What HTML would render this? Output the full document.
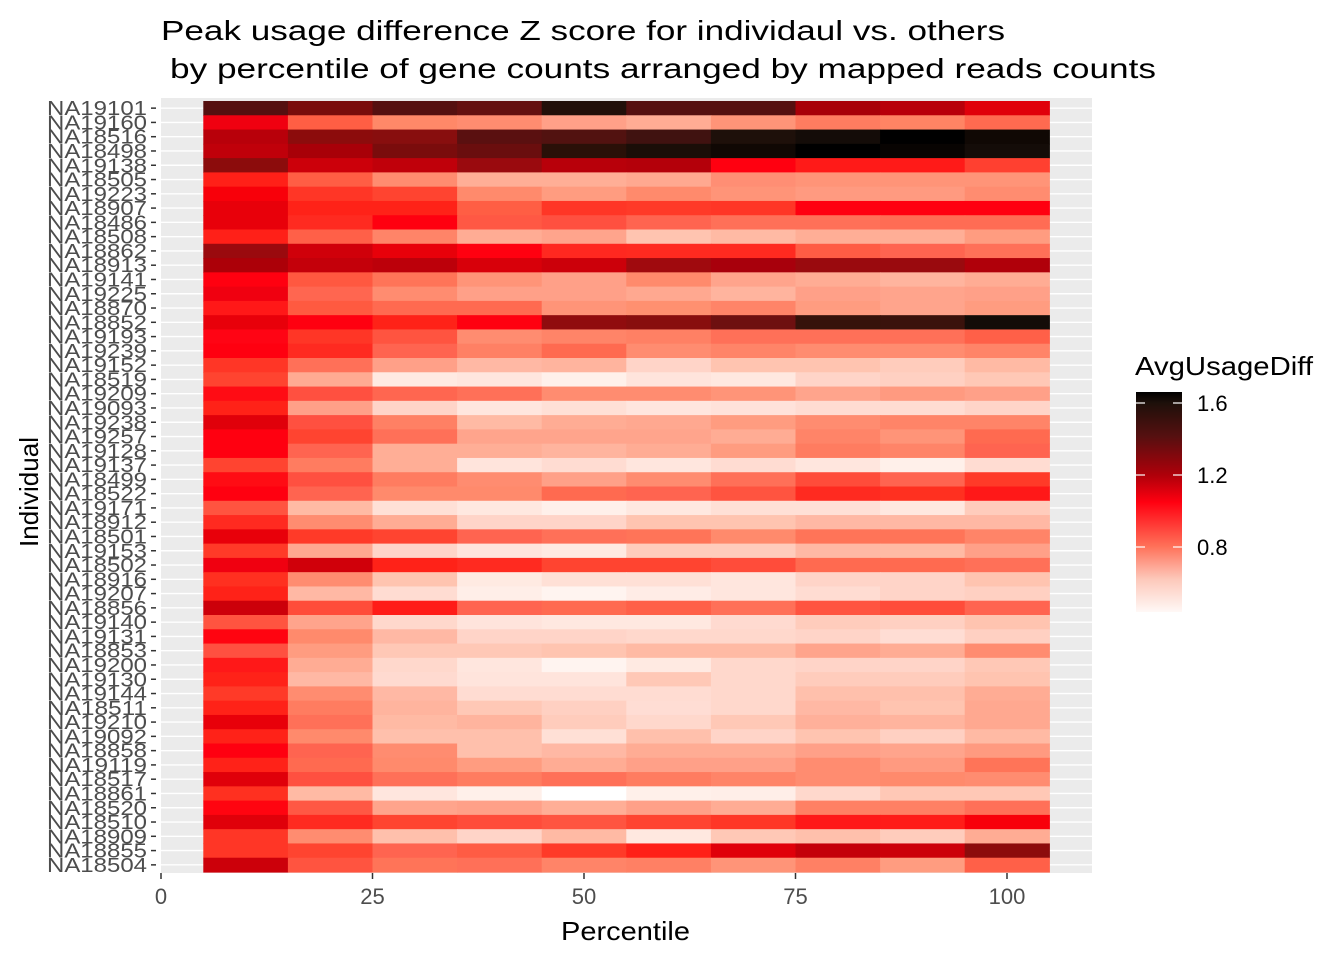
<!DOCTYPE html>
<html><head><meta charset="utf-8"><style>
html,body{margin:0;padding:0;background:#fff}
svg{display:block}
text{font-family:"Liberation Sans",Arial,sans-serif}
</style></head><body>
<svg id="s" width="1344" height="960" xmlns="http://www.w3.org/2000/svg">
<defs><linearGradient id="g" x1="0" y1="1" x2="0" y2="0">
<stop offset="0" stop-color="#fff8f6"/><stop offset="0.15" stop-color="#fdc8ba"/><stop offset="0.3" stop-color="#ff7058"/><stop offset="0.5" stop-color="#ff0010"/><stop offset="0.62" stop-color="#b0000a"/><stop offset="0.8" stop-color="#551010"/><stop offset="0.95" stop-color="#1e100a"/><stop offset="1" stop-color="#000000"/>
</linearGradient></defs>
<rect x="161" y="98" width="931" height="775" fill="#ebebeb"/>
<g id="grid"></g>
<g id="tiles"></g>
<g id="labs" fill="#4d4d4d" font-size="20" text-anchor="end"></g>
<g stroke="#333" stroke-width="1.5">
<line x1="161" y1="873" x2="161" y2="879"/><line x1="372.5" y1="873" x2="372.5" y2="879"/><line x1="584" y1="873" x2="584" y2="879"/><line x1="795.5" y1="873" x2="795.5" y2="879"/><line x1="1007" y1="873" x2="1007" y2="879"/>
</g>
<g fill="#4d4d4d" font-size="22" text-anchor="middle">
<text x="161" y="904">0</text><text x="372.5" y="904">25</text><text x="584" y="904">50</text><text x="795.5" y="904">75</text><text x="1007" y="904">100</text>
</g>
<text x="561" y="940" font-size="26" textLength="129" lengthAdjust="spacingAndGlyphs" fill="#000">Percentile</text>
<text transform="translate(38,547) rotate(-90)" font-size="26" textLength="110" lengthAdjust="spacingAndGlyphs" fill="#000">Individual</text>
<text x="161" y="40" font-size="28" textLength="844" lengthAdjust="spacingAndGlyphs" fill="#000">Peak usage difference Z score for individaul vs. others</text>
<text x="170" y="78" font-size="28" textLength="986" lengthAdjust="spacingAndGlyphs" fill="#000">by percentile of gene counts arranged by mapped reads counts</text>
<text x="1135" y="375" font-size="26" textLength="178" lengthAdjust="spacingAndGlyphs" fill="#000">AvgUsageDiff</text>
<rect x="1136" y="392" width="46" height="220" fill="url(#g)"/>
<g stroke="#fff" stroke-width="1.2">
<line x1="1136" y1="403" x2="1145" y2="403"/><line x1="1173" y1="403" x2="1182" y2="403"/>
<line x1="1136" y1="475" x2="1145" y2="475"/><line x1="1173" y1="475" x2="1182" y2="475"/>
<line x1="1136" y1="547" x2="1145" y2="547"/><line x1="1173" y1="547" x2="1182" y2="547"/>
</g>
<g fill="#000" font-size="22"><text x="1197" y="411">1.6</text><text x="1197" y="483">1.2</text><text x="1197" y="555">0.8</text></g>
</svg>
<script>
var L=["NA19101","NA19160","NA18516","NA18498","NA19138","NA18505","NA19223","NA18907","NA18486","NA18508","NA18862","NA18913","NA19141","NA19225","NA18870","NA18852","NA19193","NA19239","NA19152","NA18519","NA19209","NA19093","NA19238","NA19257","NA19128","NA19137","NA18499","NA18522","NA19171","NA18912","NA18501","NA19153","NA18502","NA18916","NA19207","NA18856","NA19140","NA19131","NA18853","NA19200","NA19130","NA19144","NA18511","NA19210","NA19092","NA18858","NA19119","NA18517","NA18861","NA18520","NA18510","NA18909","NA18855","NA18504"];
var C=[
"551010 7a0c0c 551010 641010 22100a 551010 551010 a80008 b8000a e0000a",
"f00010 ff5e44 ff8868 ff8c70 ffa088 ffac94 ff9478 ff7c60 ff8464 ff6a50",
"b8000a 8c0c0c 880e0e 5a1010 521210 401210 1e100a 140c08 000000 100804",
"c0000a a80008 7a0c0c 6a0e0e 2a1008 1a0e08 100804 000000 080402 140c08",
"8c0c0c cc000a c0000a 9a0a0e b8000a b4000a ff0010 ff1a18 ff1a18 ff4030",
"ff2018 ff5e44 ff8c70 ffae96 ffae96 ffa890 ff8e74 ff9478 ff9478 ff9478",
"f8000a ff3626 ff4430 ff8a6c ff9c80 ff8a6c ff9478 ff9a80 ff9a80 ff8c70",
"e8000a ff2218 ff2218 ff5e44 ff3626 ff3a28 ff3626 ff0010 ff0010 ff0010",
"e8000a ff2a20 ff0010 ff5844 ff5040 ff6450 ff7058 ff7058 ff6c54 ff6c54",
"ff2018 ff6048 ff8468 ffac94 ffa48c ffc4b0 ffbaa4 ffae96 ffae96 ff9c80",
"9a0a0e d0000a e8000a ff0010 ff2820 ff2a20 ff2a20 ff5c44 ff6450 ff7058",
"ac0008 c4000a bc000a d8000a cc000a a00a0e a8000c 9a0a0e 9a0a0e b0000a",
"ff0010 ff5840 ff7458 ff9478 ffa088 ff8a6c ffa48c ffac94 ffb49e ffac94",
"f00010 ff6650 ff8c70 ffa088 ffa088 ffa890 ffb49e ffa088 ffa48c ffa088",
"ff1818 ff5a40 ff6a50 ff6a50 ff9478 ff9070 ff8468 ff9c80 ffa48c ff9c80",
"e8000a ff0010 ff2218 ff0010 900c0e 880e0e 6e1010 36120a 3a120c 140c08",
"ff0414 ff3626 ff5440 ff8c70 ff8468 ff8064 ff7058 ff7058 ff7058 ff6048",
"ff0010 ff2a20 ff6450 ff8064 ff6a50 ff8c70 ff8468 ff8c70 ff8c70 ff8468",
"ff3626 ff7058 ffa088 ffb8a4 ffb49e ffd4c8 ffc4b0 ffc4b0 ffccbc ffbaa4",
"ff4430 ffaa92 ffeae2 ffe6de fff0ea ffe4dc ffe8e0 ffd4c8 ffd0c2 ffc8b6",
"ff0c14 ff5040 ff6650 ff7058 ff8c70 ff8c70 ff9478 ffa48c ff9a80 ffa088",
"ff2218 ffa088 ffd4c8 ffe6de ffe0d6 ffe6de ffe2da ffdcd2 ffdcd2 ffd4c8",
"e0000a ff5040 ff8064 ffbaa4 ffac94 ffa890 ff9c80 ff8c70 ff8468 ff8468",
"ff0010 ff4430 ff7058 ffa48c ffa48c ffa48c ffac94 ff8468 ff9478 ff6a50",
"ff0010 ff6450 ffae96 ffae96 ffb49e ffac94 ff9c80 ff7c60 ff8468 ff6450",
"ff4430 ff7c60 ffae96 ffe4dc ffdcd2 ffe6de ffdcd2 ffe6de fff0ea ffdcd2",
"ff0c14 ff5040 ff7c60 ff8c70 ffa088 ff8c70 ff7058 ff4c3a ff6450 ff3a28",
"ff0010 ff6450 ff8a6c ff8a6c ff6a50 ff6450 ff5440 ff2a20 ff3020 ff1818",
"ff5440 ffbaa4 ffe0d6 ffe8e0 fff0ea ffe8e0 ffe0d6 ffe0d6 ffe8e0 ffccbc",
"ff2a20 ff8c70 ffac94 ffd4c8 ffd4c8 ffc4b0 ffc4b0 ffb8a4 ffb8a4 ffb8a4",
"e8000a ff3a28 ff4430 ff6450 ff7058 ff7458 ff8a6c ff7458 ff7458 ff8468",
"ff3a28 ffa890 ffd4c8 ffe4dc ffeae2 ffccbc ffccbc ffb8a4 ffbaa4 ffa088",
"f00010 d0000a ff2218 ff2a20 ff4430 ff4430 ff4c3a ff6a50 ff6a50 ff7058",
"ff3020 ff8c70 ffc4b0 ffeae2 ffe0d6 ffe0d6 ffe6de ffd4c8 ffd4c8 ffc4b0",
"ff2218 ffb8a4 ffdcd2 ffeee8 fff4f0 ffece6 ffe6de ffdcd2 ffd4c8 ffd0c2",
"cc000a ff4c3a ff1c18 ff6450 ff6a50 ff6048 ff7058 ff5440 ff4c3a ff6450",
"ff5440 ffa48c ffd8cc ffe4dc ffe8e0 ffe8e0 ffdad0 ffccbc ffd0c2 ffc4b0",
"ff0410 ff8a6c ffb8a4 ffd4c8 ffd4c8 ffd8cc ffd8cc ffd4c8 ffddd4 ffd0c2",
"ff5040 ff9c80 ffc8b6 ffc8b6 ffc4b0 ffbaa4 ffbaa4 ffa48c ffac94 ff8c70",
"ff1818 ffac94 ffd8cc ffe6de fff4f0 ffeae2 ffd8cc ffd4c8 ffd4c8 ffc8b6",
"ff2218 ffb8a4 ffdad0 ffe4dc ffe4dc ffc8b6 ffd8cc ffccbc ffccbc ffc4b0",
"ff3a28 ff8c70 ffb8a4 ffdcd2 ffdcd2 ffdcd2 ffd8cc ffc0ac ffc0ac ffac94",
"ff2218 ff7c60 ffb49e ffc8b6 ffd0c2 ffddd4 ffd8cc ffb8a4 ffc4b0 ffa890",
"e8000a ff7058 ffbaa4 ffb49e ffccbc ffd8cc ffc8b6 ffb09a ffb49e ffa890",
"ff2218 ff8a6c ffc0ac ffc0ac ffe0d6 ffc0ac ffd4c8 ffc4b0 ffd0c2 ffbaa4",
"ff0010 ff6450 ff8c70 ffc0ac ffb8a4 ffac94 ffac94 ffa088 ffa48c ff9a80",
"ff2218 ff6a50 ff8a6c ff9c80 ffac94 ffa088 ffa088 ff8c70 ff9a80 ff7458",
"e0000a ff5040 ff7058 ff7c60 ff7058 ff7c60 ff8468 ff8c70 ff8a6c ff8c70",
"ff3020 ffbaa4 ffe6de fff0ea ffffff fff0ea ffeee8 ffd8cc ffc8b6 ffc8b6",
"ff0410 ff5844 ffa48c ffa088 ffae96 ffa088 ffac94 ff8064 ff8064 ff7058",
"e0000a ff2a20 ff4430 ff4c3a ff5440 ff4430 ff3626 ff1818 ff1c18 f8000a",
"ff3626 ff8c70 ffc0ac ffd4c8 ffbaa4 ffe8e0 ffc8b6 ffc0ac ffccbc ffac94",
"ff3626 ff4430 ff6450 ff5c44 ff3a28 ff2018 e0000a c4000a cc000a 8c0c0c",
"cc000a ff5440 ff7458 ff7058 ff8468 ff8064 ff9478 ff8064 ff9c80 ff6048"];
var NS="http://www.w3.org/2000/svg",T=101,H=(872-101)/54,X0=203.3,W=84.6;
function el(n,a,p){var e=document.createElementNS(NS,n);for(var k in a)e.setAttribute(k,a[k]);p.appendChild(e);return e;}
var grid=document.getElementById("grid"),tiles=document.getElementById("tiles"),labs=document.getElementById("labs"),s=document.getElementById("s");
for(var i=0;i<54;i++){var yc=T+H*(i+0.5);
el("line",{x1:161,x2:1092,y1:yc,y2:yc,stroke:"#fff","stroke-width":1.4},grid);
var r=C[i].split(" ");
for(var j=0;j<10;j++)el("rect",{x:X0+j*W,y:T+H*i,width:W+0.6,height:H+0.6,fill:"#"+r[j]},tiles);
var t=el("text",{x:147,y:yc+7,textLength:100,lengthAdjust:"spacingAndGlyphs"},labs);t.textContent=L[i];
el("line",{x1:151,x2:156,y1:yc,y2:yc,stroke:"#333","stroke-width":1.5},s);}
</script>
</body></html>
